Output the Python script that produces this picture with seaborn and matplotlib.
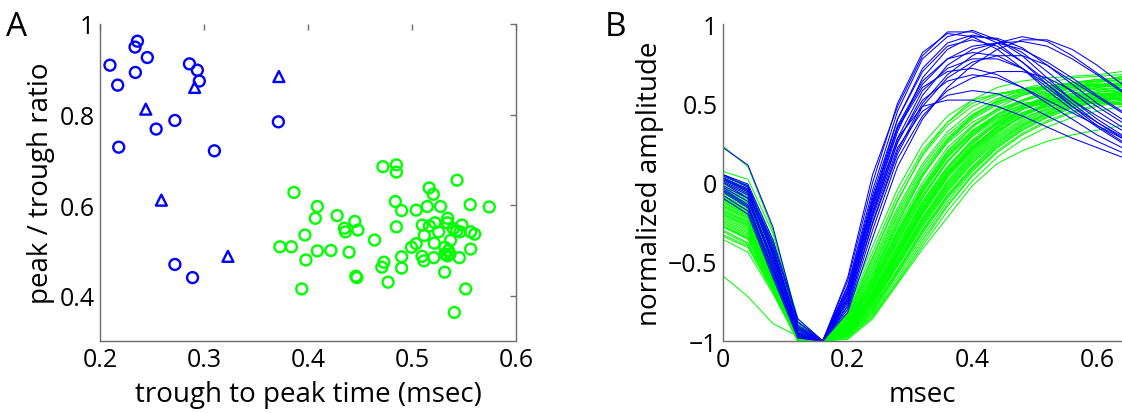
import numpy as np
import pandas as pd
import matplotlib
matplotlib.use("Agg")
import matplotlib.pyplot as plt
import seaborn as sns

# ---------------- Panel A data ----------------
fs_circ_x = [0.2096, 0.217, 0.218, 0.234, 0.2337, 0.236, 0.2455, 0.254, 0.272, 0.286,
             0.2936, 0.2955, 0.310, 0.3715, 0.272, 0.289]
fs_circ_y = [0.909, 0.865, 0.728, 0.893, 0.949, 0.962, 0.926, 0.768, 0.787, 0.912,
             0.898, 0.874, 0.720, 0.784, 0.469, 0.440]
fs_tri_x = [0.244, 0.291, 0.372, 0.259, 0.323]
fs_tri_y = [0.812, 0.860, 0.884, 0.611, 0.487]
rs_x = [0.3865, 0.409, 0.407, 0.397, 0.373, 0.384, 0.409, 0.422, 0.398, 0.394,
        0.428, 0.445, 0.435, 0.436, 0.448, 0.464, 0.4395, 0.446, 0.447, 0.472,
        0.485, 0.485, 0.484, 0.490, 0.485, 0.473, 0.471, 0.477, 0.490, 0.490,
        0.4995, 0.504, 0.504, 0.5147, 0.5165, 0.5205, 0.5275, 0.5099, 0.5167, 0.5221,
        0.5343, 0.534, 0.5118, 0.5256, 0.5214, 0.5096, 0.5115, 0.5209, 0.5314, 0.537,
        0.5317, 0.535, 0.5317, 0.5365, 0.534, 0.5397, 0.543, 0.548, 0.5462, 0.5433,
        0.556, 0.5743, 0.5564, 0.5603, 0.5564, 0.5455, 0.5516, 0.5407]
rs_y = [0.628, 0.597, 0.571, 0.534, 0.508, 0.508, 0.499, 0.500, 0.479, 0.415,
        0.577, 0.564, 0.549, 0.541, 0.545, 0.523, 0.496, 0.443, 0.440, 0.685,
        0.689, 0.673, 0.608, 0.588, 0.552, 0.474, 0.463, 0.430, 0.486, 0.461,
        0.507, 0.515, 0.589, 0.597, 0.638, 0.624, 0.597, 0.556, 0.554, 0.561,
        0.571, 0.561, 0.533, 0.541, 0.516, 0.487, 0.477, 0.484, 0.452, 0.522,
        0.507, 0.500, 0.492, 0.492, 0.488, 0.548, 0.543, 0.556, 0.541, 0.655,
        0.601, 0.596, 0.541, 0.536, 0.503, 0.484, 0.415, 0.363]

# ---------------- Panel B data ----------------
t_ms = [0.0, 0.04, 0.08, 0.12, 0.16, 0.20, 0.24, 0.28, 0.32, 0.36, 0.40, 0.44,
        0.48, 0.52, 0.56, 0.60, 0.64]

blue_waves = [
    [0.22, 0.11, -0.28, -0.88, -1, -0.60, 0.05, 0.48, 0.80, 0.95, 0.95, 0.88, 0.76, 0.62, 0.48, 0.36, 0.26],
    [0.05, -0.03, -0.40, -0.93, -1, -0.65, -0.05, 0.45, 0.78, 0.92, 0.96, 0.90, 0.80, 0.66, 0.52, 0.40, 0.30],
    [0.03, -0.05, -0.45, -0.95, -1, -0.70, -0.12, 0.40, 0.72, 0.88, 0.93, 0.90, 0.82, 0.70, 0.57, 0.45, 0.35],
    [0.00, -0.08, -0.50, -0.96, -1, -0.72, -0.15, 0.32, 0.66, 0.84, 0.92, 0.91, 0.85, 0.74, 0.62, 0.50, 0.40],
    [-0.02, -0.10, -0.48, -0.92, -1, -0.68, -0.10, 0.35, 0.62, 0.78, 0.86, 0.88, 0.84, 0.76, 0.66, 0.55, 0.45],
    [0.04, -0.02, -0.42, -0.90, -1, -0.75, -0.20, 0.25, 0.55, 0.74, 0.84, 0.88, 0.89, 0.86, 0.78, 0.68, 0.57],
    [-0.05, -0.15, -0.55, -0.97, -1, -0.78, -0.25, 0.20, 0.50, 0.68, 0.80, 0.88, 0.92, 0.89, 0.80, 0.69, 0.58],
    [0.02, -0.06, -0.46, -0.94, -1, -0.73, -0.18, 0.28, 0.58, 0.72, 0.78, 0.78, 0.72, 0.62, 0.50, 0.38, 0.28],
    [-0.08, -0.18, -0.58, -0.96, -1, -0.80, -0.30, 0.15, 0.42, 0.58, 0.66, 0.70, 0.70, 0.66, 0.58, 0.48, 0.38],
    [0.00, -0.10, -0.52, -0.98, -1, -0.76, -0.22, 0.22, 0.45, 0.55, 0.58, 0.56, 0.50, 0.42, 0.34, 0.26, 0.19],
    [-0.03, -0.12, -0.50, -0.95, -1, -0.70, -0.16, 0.28, 0.48, 0.52, 0.52, 0.48, 0.42, 0.35, 0.28, 0.22, 0.16],
    [0.01, -0.07, -0.44, -0.92, -1, -0.66, -0.08, 0.40, 0.70, 0.86, 0.90, 0.86, 0.76, 0.64, 0.52, 0.42, 0.33],
    [-0.06, -0.16, -0.56, -0.97, -1, -0.78, -0.26, 0.18, 0.48, 0.66, 0.76, 0.80, 0.80, 0.74, 0.64, 0.54, 0.44],
    [0.03, -0.04, -0.38, -0.88, -1, -0.62, 0.00, 0.50, 0.82, 0.94, 0.92, 0.84, 0.72, 0.58, 0.46, 0.35, 0.25],
    [-0.10, -0.20, -0.60, -0.98, -1, -0.82, -0.35, 0.10, 0.40, 0.60, 0.74, 0.84, 0.90, 0.90, 0.84, 0.74, 0.62],
    [0.02, -0.05, -0.43, -0.91, -1, -0.68, -0.12, 0.36, 0.64, 0.78, 0.82, 0.80, 0.72, 0.60, 0.48, 0.38, 0.29],
    [-0.04, -0.14, -0.54, -0.96, -1, -0.74, -0.20, 0.26, 0.52, 0.64, 0.68, 0.66, 0.60, 0.52, 0.44, 0.36, 0.28],
    [0.05, -0.01, -0.36, -0.86, -1, -0.70, -0.14, 0.34, 0.60, 0.70, 0.72, 0.68, 0.60, 0.50, 0.40, 0.30, 0.22],
]

green_waves = [
    [0.23, 0.10, -0.30, -0.86, -1, -0.82, -0.48, -0.12, 0.18, 0.38, 0.52, 0.60, 0.64, 0.66, 0.67, 0.68, 0.70],
    [0.07, 0.02, -0.32, -0.88, -1, -0.80, -0.44, -0.08, 0.20, 0.38, 0.50, 0.56, 0.59, 0.60, 0.60, 0.59, 0.57],
    [0.05, -0.02, -0.36, -0.90, -1, -0.84, -0.52, -0.18, 0.10, 0.30, 0.43, 0.51, 0.56, 0.59, 0.61, 0.62, 0.62],
    [0.02, -0.06, -0.40, -0.92, -1, -0.86, -0.58, -0.26, 0.04, 0.26, 0.40, 0.49, 0.55, 0.58, 0.60, 0.61, 0.61],
    [0.00, -0.08, -0.42, -0.91, -1, -0.88, -0.62, -0.30, -0.02, 0.20, 0.35, 0.45, 0.52, 0.57, 0.60, 0.62, 0.63],
    [-0.02, -0.10, -0.45, -0.93, -1, -0.90, -0.64, -0.34, -0.06, 0.16, 0.32, 0.43, 0.51, 0.56, 0.59, 0.61, 0.62],
    [-0.04, -0.12, -0.48, -0.94, -1, -0.87, -0.60, -0.28, 0.00, 0.22, 0.36, 0.46, 0.52, 0.55, 0.56, 0.56, 0.55],
    [-0.06, -0.14, -0.50, -0.95, -1, -0.91, -0.68, -0.40, -0.12, 0.10, 0.27, 0.39, 0.48, 0.54, 0.58, 0.60, 0.61],
    [-0.08, -0.16, -0.52, -0.96, -1, -0.89, -0.66, -0.36, -0.08, 0.14, 0.30, 0.41, 0.48, 0.52, 0.54, 0.55, 0.55],
    [-0.10, -0.18, -0.53, -0.96, -1, -0.92, -0.70, -0.42, -0.14, 0.08, 0.25, 0.37, 0.46, 0.52, 0.56, 0.59, 0.60],
    [-0.12, -0.20, -0.55, -0.97, -1, -0.93, -0.72, -0.45, -0.18, 0.05, 0.22, 0.35, 0.44, 0.50, 0.54, 0.57, 0.58],
    [-0.14, -0.22, -0.56, -0.97, -1, -0.90, -0.65, -0.35, -0.06, 0.16, 0.31, 0.41, 0.47, 0.50, 0.51, 0.51, 0.50],
    [-0.16, -0.24, -0.58, -0.98, -1, -0.94, -0.74, -0.48, -0.22, 0.01, 0.19, 0.32, 0.42, 0.49, 0.54, 0.57, 0.59],
    [-0.18, -0.26, -0.59, -0.98, -1, -0.95, -0.76, -0.50, -0.24, -0.02, 0.16, 0.30, 0.40, 0.47, 0.52, 0.55, 0.57],
    [-0.20, -0.28, -0.60, -0.98, -1, -0.92, -0.70, -0.40, -0.12, 0.10, 0.26, 0.37, 0.44, 0.48, 0.50, 0.50, 0.49],
    [-0.22, -0.30, -0.62, -0.99, -1, -0.96, -0.79, -0.55, -0.30, -0.08, 0.10, 0.25, 0.36, 0.44, 0.50, 0.54, 0.56],
    [-0.24, -0.32, -0.63, -0.99, -1, -0.93, -0.72, -0.44, -0.16, 0.06, 0.22, 0.34, 0.43, 0.49, 0.53, 0.55, 0.56],
    [-0.26, -0.34, -0.64, -0.99, -1, -0.97, -0.82, -0.58, -0.34, -0.12, 0.07, 0.22, 0.33, 0.41, 0.47, 0.51, 0.53],
    [-0.28, -0.36, -0.66, -1.00, -1, -0.95, -0.77, -0.52, -0.26, -0.04, 0.14, 0.28, 0.38, 0.45, 0.50, 0.53, 0.55],
    [-0.30, -0.38, -0.67, -1.00, -1, -0.98, -0.84, -0.62, -0.38, -0.15, 0.04, 0.19, 0.30, 0.38, 0.44, 0.48, 0.51],
    [-0.33, -0.40, -0.68, -1.00, -1, -0.96, -0.80, -0.56, -0.30, -0.08, 0.10, 0.24, 0.35, 0.43, 0.48, 0.52, 0.54],
    [-0.36, -0.44, -0.70, -1.00, -1, -0.99, -0.86, -0.64, -0.42, -0.22, -0.02, 0.12, 0.20, 0.26, 0.30, 0.33, 0.36],
    [-0.59, -0.72, -0.89, -0.97, -1, -0.97, -0.83, -0.60, -0.36, -0.14, 0.05, 0.20, 0.31, 0.39, 0.45, 0.49, 0.52],
    [0.04, -0.03, -0.38, -0.89, -1, -0.78, -0.40, -0.04, 0.24, 0.42, 0.52, 0.56, 0.57, 0.56, 0.54, 0.52, 0.50],
    [-0.05, -0.13, -0.47, -0.94, -1, -0.85, -0.55, -0.22, 0.06, 0.27, 0.41, 0.50, 0.56, 0.60, 0.63, 0.65, 0.66],
    [-0.09, -0.17, -0.51, -0.95, -1, -0.88, -0.60, -0.26, 0.04, 0.26, 0.42, 0.52, 0.59, 0.63, 0.66, 0.67, 0.68],
    [-0.11, -0.19, -0.54, -0.96, -1, -0.91, -0.67, -0.38, -0.10, 0.13, 0.30, 0.43, 0.52, 0.58, 0.62, 0.64, 0.65],
    [-0.13, -0.21, -0.55, -0.97, -1, -0.93, -0.73, -0.46, -0.19, 0.04, 0.22, 0.36, 0.46, 0.53, 0.58, 0.61, 0.63],
    [-0.15, -0.23, -0.57, -0.97, -1, -0.89, -0.64, -0.33, -0.05, 0.17, 0.32, 0.42, 0.49, 0.53, 0.55, 0.56, 0.56],
    [-0.17, -0.25, -0.58, -0.98, -1, -0.94, -0.75, -0.49, -0.23, 0.00, 0.18, 0.32, 0.42, 0.49, 0.54, 0.58, 0.60],
    [-0.19, -0.27, -0.59, -0.98, -1, -0.96, -0.78, -0.53, -0.28, -0.06, 0.12, 0.26, 0.36, 0.43, 0.48, 0.51, 0.53],
    [-0.21, -0.29, -0.61, -0.99, -1, -0.92, -0.71, -0.43, -0.15, 0.07, 0.23, 0.35, 0.43, 0.48, 0.51, 0.53, 0.53],
    [-0.23, -0.31, -0.62, -0.99, -1, -0.95, -0.77, -0.51, -0.25, -0.03, 0.15, 0.29, 0.39, 0.46, 0.51, 0.54, 0.56],
    [-0.01, -0.09, -0.44, -0.92, -1, -0.84, -0.54, -0.20, 0.08, 0.28, 0.42, 0.51, 0.57, 0.61, 0.63, 0.64, 0.64],
    [0.01, -0.07, -0.41, -0.91, -1, -0.86, -0.57, -0.24, 0.05, 0.25, 0.38, 0.46, 0.50, 0.52, 0.52, 0.51, 0.49],
    [-0.07, -0.15, -0.49, -0.95, -1, -0.90, -0.66, -0.37, -0.09, 0.13, 0.29, 0.40, 0.47, 0.51, 0.53, 0.53, 0.52],
    [-0.27, -0.35, -0.65, -0.99, -1, -0.94, -0.74, -0.47, -0.20, 0.03, 0.20, 0.33, 0.42, 0.48, 0.52, 0.54, 0.55],
    [-0.31, -0.39, -0.67, -1.00, -1, -0.97, -0.81, -0.57, -0.32, -0.10, 0.08, 0.22, 0.33, 0.41, 0.47, 0.51, 0.54],
    [-0.18, -0.25, -0.57, -0.97, -1, -0.93, -0.73, -0.46, -0.20, 0.03, 0.21, 0.35, 0.46, 0.54, 0.60, 0.64, 0.67],
    [-0.03, -0.11, -0.46, -0.93, -1, -0.87, -0.61, -0.31, -0.03, 0.19, 0.35, 0.47, 0.55, 0.60, 0.63, 0.65, 0.66],
    [-0.12, -0.21, -0.54, -0.96, -1, -0.91, -0.69, -0.41, -0.13, 0.09, 0.26, 0.38, 0.46, 0.51, 0.54, 0.56, 0.57],
    [-0.25, -0.33, -0.63, -0.99, -1, -0.96, -0.80, -0.56, -0.31, -0.09, 0.09, 0.23, 0.34, 0.42, 0.48, 0.52, 0.55],
    [-0.06, -0.13, -0.48, -0.94, -1, -0.83, -0.50, -0.16, 0.12, 0.32, 0.45, 0.53, 0.58, 0.60, 0.61, 0.61, 0.60],
    [-0.15, -0.22, -0.56, -0.97, -1, -0.92, -0.71, -0.44, -0.17, 0.06, 0.24, 0.38, 0.48, 0.55, 0.60, 0.63, 0.65],
    [-0.09, -0.18, -0.52, -0.95, -1, -0.95, -0.77, -0.52, -0.27, -0.05, 0.13, 0.27, 0.37, 0.44, 0.49, 0.52, 0.54],
    [-0.20, -0.27, -0.60, -0.98, -1, -0.89, -0.63, -0.32, -0.04, 0.18, 0.33, 0.43, 0.49, 0.52, 0.53, 0.53, 0.52],
    [-0.34, -0.41, -0.69, -1.00, -1, -0.98, -0.85, -0.63, -0.40, -0.18, 0.01, 0.16, 0.27, 0.35, 0.41, 0.45, 0.48],
    [0.03, -0.04, -0.39, -0.90, -1, -0.82, -0.47, -0.11, 0.17, 0.36, 0.48, 0.55, 0.59, 0.61, 0.62, 0.62, 0.61],
    [-0.11, -0.18, -0.53, -0.96, -1, -0.94, -0.75, -0.50, -0.24, -0.01, 0.17, 0.31, 0.42, 0.50, 0.56, 0.60, 0.62],
    [-0.28, -0.35, -0.65, -0.99, -1, -0.93, -0.73, -0.45, -0.18, 0.05, 0.21, 0.33, 0.41, 0.46, 0.49, 0.50, 0.50],
]

BLUE = "#0000ff"
GREEN = "#00ff00"
SPINE = "#6e6e6e"

# ---------------- build tables ----------------
scat = pd.DataFrame({
    "x": fs_circ_x + fs_tri_x + rs_x,
    "y": fs_circ_y + fs_tri_y + rs_y,
    "grp": ["fs_c"] * len(fs_circ_x) + ["fs_t"] * len(fs_tri_x) + ["rs"] * len(rs_x),
})

rows = []
for i, w in enumerate(green_waves):
    for t, v in zip(t_ms, w):
        rows.append(("g%d" % i, "rs", t, v))
for i, w in enumerate(blue_waves):
    for t, v in zip(t_ms, w):
        rows.append(("b%d" % i, "fs", t, v))
waves = pd.DataFrame(rows, columns=["unit", "grp", "t", "v"])

# ---------------- style ----------------
sns.set_style("white")
plt.rcParams["font.family"] = ["Open Sans", "DejaVu Sans"]
plt.rcParams["axes.unicode_minus"] = True
plt.rcParams["text.color"] = "black"
plt.rcParams["axes.labelcolor"] = "black"
plt.rcParams["xtick.labelcolor"] = "black"
plt.rcParams["ytick.labelcolor"] = "black"

LABEL_FS = 20
TICK_FS = 18

fig = plt.figure(figsize=(11.22, 4.14), dpi=100)
W, H = 1122.0, 414.0
axA = fig.add_axes([100 / W, 1 - 342 / H, 416 / W, 317 / H])
axB = fig.add_axes([723 / W, 1 - 342 / H, (1122 - 723) / W, 317 / H])

# Panel A
sns.scatterplot(data=scat, x="x", y="y", hue="grp", style="grp",
                palette={"fs_c": BLUE, "fs_t": BLUE, "rs": GREEN},
                markers={"fs_c": "o", "fs_t": "^", "rs": "o"},
                s=62, linewidth=1.7, legend=False, ax=axA, zorder=3)
for coll in axA.collections:
    fc = coll.get_facecolors()
    coll.set_edgecolors(fc)
    coll.set_facecolors("none")

axA.set_xlim(0.2, 0.6)
axA.set_ylim(0.3, 1.0)
axA.set_xticks([0.2, 0.3, 0.4, 0.5, 0.6])
axA.set_xticklabels(["0.2", "0.3", "0.4", "0.5", "0.6"])
axA.set_yticks([0.4, 0.6, 0.8, 1.0])
axA.set_yticklabels(["0.4", "0.6", "0.8", "1"])
axA.set_xlabel("trough to peak time (msec)", fontsize=LABEL_FS, labelpad=6)
axA.set_ylabel("peak / trough ratio", fontsize=LABEL_FS, labelpad=3)
axA.spines["top"].set_visible(False)
for s in ["left", "right", "bottom"]:
    axA.spines[s].set_color(SPINE)
    axA.spines[s].set_linewidth(1.0)
axA.tick_params(direction="in", length=4, width=1, color=SPINE, labelsize=TICK_FS,
                top=True, right=True, pad=4)

# Panel B
sns.lineplot(data=waves, x="t", y="v", units="unit", hue="grp", estimator=None,
             palette={"rs": GREEN, "fs": BLUE}, hue_order=["rs", "fs"],
             linewidth=0.75, legend=False, ax=axB, sort=False)
axB.set_xlim(0, 0.64)
axB.set_ylim(-1, 1)
axB.set_xticks([0, 0.2, 0.4, 0.6])
axB.set_xticklabels(["0", "0.2", "0.4", "0.6"])
axB.set_yticks([-1, -0.5, 0, 0.5, 1])
axB.set_yticklabels(["\u22121", "\u22120.5", "0", "0.5", "1"])
axB.set_xlabel("msec", fontsize=LABEL_FS, labelpad=6)
axB.set_ylabel("normalized amplitude", fontsize=LABEL_FS, labelpad=3)
axB.spines["top"].set_visible(False)
axB.spines["right"].set_visible(False)
for s in ["left", "bottom"]:
    axB.spines[s].set_color(SPINE)
    axB.spines[s].set_linewidth(1.0)
axB.tick_params(direction="in", length=4, width=1, color=SPINE, labelsize=TICK_FS, pad=4)

fig.text(6 / W, 1 - 36 / H, "A", fontsize=24)
fig.text(605 / W, 1 - 36 / H, "B", fontsize=24)

fig.savefig("out.png", dpi=100)
